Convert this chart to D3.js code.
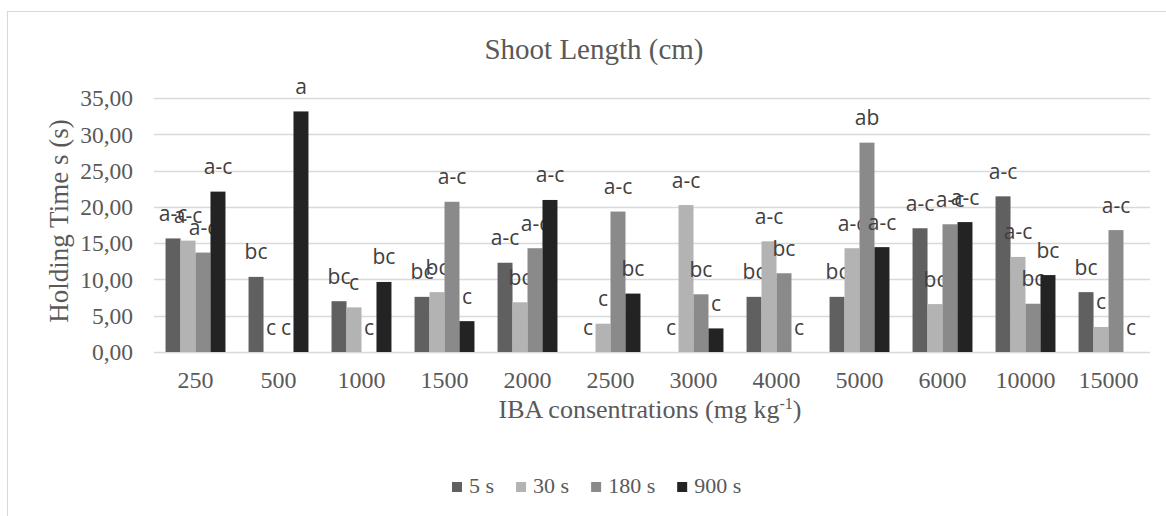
<!DOCTYPE html>
<html>
<head>
<meta charset="utf-8">
<script src="https://cdnjs.cloudflare.com/ajax/libs/d3/7.8.5/d3.min.js"></script>
<style>
    body { margin: 0; background: #fff; }
    svg { display: block; }
</style>
</head>
<body>
<svg width="1166" height="516"></svg>
<script>
// ---> Data
const categories = ["250", "500", "1000", "1500", "2000", "2500", "3000", "4000", "5000", "6000", "10000", "15000"];
const seriesNames = ["5 s", "30 s", "180 s", "900 s"];
const values5 = [15.65, 10.35, 7.0, 7.6, 12.3, 0, 0, 7.6, 7.6, 17.05, 21.45, 8.25];
const values30 = [15.35, 0, 6.15, 8.25, 6.85, 3.9, 20.25, 15.25, 14.3, 6.6, 13.1, 3.45];
const values180 = [13.7, 0, 0, 20.7, 14.3, 19.35, 7.95, 10.85, 28.85, 17.6, 6.65, 16.8];
const values900 = [22.1, 33.15, 9.65, 4.25, 20.95, 8.05, 3.25, 0, 14.45, 17.9, 10.6, 0];
const letters5 = ["a-c", "bc", "bc", "bc", "a-c", "c", "c", "bc", "bc", "a-c", "a-c", "bc"];
const letters30 = ["a-c", "c", "c", "bc", "bc", "c", "a-c", "a-c", "a-c", "bc", "a-c", "c"];
const letters180 = ["a-c", "c", "c", "a-c", "a-c", "a-c", "bc", "bc", "ab", "a-c", "bc", "a-c"];
const letters900 = ["a-c", "a", "bc", "c", "a-c", "bc", "c", "c", "a-c", "a-c", "bc", "c"];
const yTicks = [0, 5, 10, 15, 20, 25, 30, 35];
const colors = ["#606060", "#b3b3b3", "#8a8a8a", "#232323"];

const allValues = [values5, values30, values180, values900];
const allLetters = [letters5, letters30, letters180, letters900];

// ---> Layout
const svg = d3.select("svg");
const plot = {left: 154, right: 1150, top: 98, bottom: 352};
const serif = "'Liberation Serif', 'Times New Roman', serif";
const textGrey = "#595959";

// chart border (runs off the right and bottom of the picture)
svg.append("rect")
    .attr("x", 7.5).attr("y", 11.5)
    .attr("width", 1200).attr("height", 600)
    .attr("fill", "none")
    .attr("stroke", "#d9d9d9")
    .attr("stroke-width", 1);

const x = d3.scaleBand().domain(categories).range([plot.left, plot.right]);
const xInner = d3.scaleBand().domain(seriesNames)
    .range([x.bandwidth() * 0.139, x.bandwidth() * 0.861]);
const y = d3.scaleLinear().domain([0, 35]).range([plot.bottom, plot.top]);

//gridlines
svg.append("g")
    .selectAll("line")
    .data(yTicks)
    .enter()
    .append("line")
    .attr("x1", plot.left).attr("x2", plot.right)
    .attr("y1", (d) => Math.round(y(d)) + 0.5)
    .attr("y2", (d) => Math.round(y(d)) + 0.5)
    .attr("stroke", "#d9d9d9")
    .attr("stroke-width", 1.3);

//y axis labels
const yAxis = d3.axisLeft(y).tickValues(yTicks)
    .tickFormat((d) => d3.format(".2f")(d).replace(".", ","))
    .tickSize(0).tickPadding(21);
svg.append("g")
    .attr("transform", `translate(${plot.left},0)`)
    .call(yAxis)
    .call((g) => g.select(".domain").remove())
    .selectAll("text")
    .attr("font-family", serif)
    .attr("font-size", 23.5)
    .attr("fill", textGrey)
    .attr("dy", "0.33em");

//x axis labels
const xAxis = d3.axisBottom(x).tickSize(0).tickPadding(20);
svg.append("g")
    .attr("transform", `translate(0,${plot.bottom})`)
    .call(xAxis)
    .call((g) => g.select(".domain").remove())
    .selectAll("text")
    .attr("font-family", serif)
    .attr("font-size", 24)
    .attr("fill", textGrey)
    .attr("dy", "0.68em");

// bars and letters, one group per series
const series = seriesNames.map((name, i) => ({
    name: name,
    color: colors[i],
    points: categories.map((c, j) => ({cat: c, value: allValues[i][j], letter: allLetters[i][j]}))
}));

const seriesG = svg.append("g")
    .selectAll("g")
    .data(series)
    .enter()
    .append("g");

seriesG.selectAll("rect")
    .data((d) => d.points.filter((p) => p.value > 0))
    .enter()
    .append("rect")
    .attr("x", function (p) {
        const s = d3.select(this.parentNode).datum();
        return x(p.cat) + xInner(s.name);
    })
    .attr("width", xInner.bandwidth())
    .attr("y", (p) => y(p.value))
    .attr("height", (p) => y(0) - y(p.value))
    .attr("fill", function () {
        return d3.select(this.parentNode).datum().color;
    });

seriesG.selectAll("text")
    .data((d) => d.points)
    .enter()
    .append("text")
    .attr("x", function (p) {
        const s = d3.select(this.parentNode).datum();
        return x(p.cat) + xInner(s.name) + xInner.bandwidth() / 2;
    })
    .attr("y", (p) => y(p.value) - 17.5)
    .attr("text-anchor", "middle")
    .attr("font-family", "'Open Sans', sans-serif")
    .attr("font-size", 21)
    .attr("fill", "#404040")
    .text((p) => p.letter);

//titles
svg.append("text")
    .attr("x", 594).attr("y", 59)
    .attr("text-anchor", "middle")
    .attr("font-family", serif)
    .attr("font-size", 29)
    .attr("fill", textGrey)
    .text("Shoot Length (cm)");

svg.append("text")
    .attr("transform", `translate(68,${(plot.top + plot.bottom) / 2 - 4}) rotate(-90)`)
    .attr("text-anchor", "middle")
    .attr("font-family", serif)
    .attr("font-size", 27)
    .attr("fill", textGrey)
    .text("Holding Time s (s)");

const xTitle = svg.append("text")
    .attr("x", (plot.left + plot.right) / 2 - 2).attr("y", 418)
    .attr("text-anchor", "middle")
    .attr("font-family", serif)
    .attr("font-size", 26)
    .attr("fill", textGrey);
xTitle.append("tspan").text("IBA consentrations (mg kg");
xTitle.append("tspan").attr("font-size", 16).attr("dy", -9).text("-1");
xTitle.append("tspan").attr("dy", 9).text(")");

// ---> Legend
const legend = svg.append("g").attr("transform", "translate(452,0)");
let legendX = 0;
series.forEach((s) => {
    const item = legend.append("g").attr("transform", `translate(${legendX},0)`);
    item.append("rect")
        .attr("x", 0).attr("y", 482)
        .attr("width", 10).attr("height", 10)
        .attr("fill", s.color);
    const label = item.append("text")
        .attr("x", 17).attr("y", 493)
        .attr("font-family", serif)
        .attr("font-size", 22)
        .attr("fill", textGrey)
        .text(s.name);
    legendX += 17 + label.node().getComputedTextLength() + 22;
});
</script>
</body>
</html>
